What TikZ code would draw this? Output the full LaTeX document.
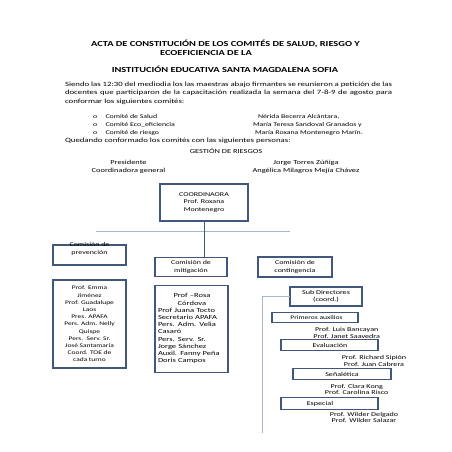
\documentclass[tikz,border=0pt]{standalone}
\usepackage{fontspec}
\setmainfont[FakeStretch=1.35]{Carlito}
\definecolor{boxc}{HTML}{42577C}
\definecolor{linec}{HTML}{A7B7C9}
\begin{document}
\begin{tikzpicture}[x=1pt,y=-1pt,
 every node/.style={inner sep=0pt, outer sep=0pt},
 ttl/.style={font=\bfseries\fontsize{7.7}{8}\selectfont, anchor=base},
 ptx/.style={font=\fontsize{6.5}{8}\selectfont, anchor=base west},
 blt/.style={font=\fontsize{5.8}{7}\selectfont, anchor=base west},
 hdr/.style={align=center, font=\fontsize{6.2}{7.6}\selectfont},
 bx/.style={draw=boxc, line width=1.2pt},
 btx/.style={align=center, font=\fontsize{5.9}{7.2}\selectfont},
 ltx/.style={align=center, font=\fontsize{5.5}{7.2}\selectfont},
 rtx/.style={align=center, font=\fontsize{6.0}{6.8}\selectfont},
 light/.style={draw=linec, line width=0.8pt}]
\useasboundingbox (0,0) rectangle (452,452);
\fill[white] (0,0) rectangle (452,452);

% titles
\node[ttl] (t1) at (225.5,46.5) {ACTA DE CONSTITUCIÓN DE LOS COMITÉS DE SALUD, RIESGO Y};
\node[ttl] (t2) at (206,55.5) {ECOEFICIENCIA DE LA};
\node[ttl] (t3) at (225,72) {INSTITUCIÓN EDUCATIVA SANTA MAGDALENA SOFIA};

% paragraph
\node[ptx] (p1) at (65,86.2) {\makebox[327pt][s]{Siendo las 12:30 del mediodia los las maestras abajo firmantes se reunieron a petición de las}};
\node[ptx] (p2) at (65,94.7) {\makebox[327pt][s]{docentes que participaron de la capacitación realizada la semana del 7-8-9 de agosto para}};
\node[ptx] (p3) at (65,103.2) {conformar los siguientes comités:};

\node[blt] (b1) at (93,118.5) {o};
\node[blt] (b2) at (93,126.5) {o};
\node[blt] (b3) at (93,134.5) {o};
\node[blt] (c1) at (105.5,118.5) {Comité de Salud};
\node[blt] (c2) at (105.5,126.5) {Comité Eco\_eficiencia};
\node[blt] (c3) at (105.5,134.5) {Comité de riesgo};
\node[blt] (n1) at (258,118.5) {Nérida Becerra Alcántara,};
\node[blt] (n2) at (253,126.5) {María Teresa Sandoval Granados y};
\node[blt] (n3) at (255,134.5) {María Roxana Montenegro Marín.};
\node[ptx] (q) at (65,142.7) {Quedando conformado los comités con las siguientes personas:};

\node[hdr, anchor=base] (g) at (226,153.6) {GESTIÓN DE RIESGOS};
\node[hdr] (pres) at (128.5,167) {Presidente\\Coordinadora general};
\node[hdr] (jorge) at (306,167) {Jorge Torres Zúñiga\\Angélica Milagros Mejía Chávez};

% boxes
\node[bx, btx, minimum width=88pt, minimum height=37pt] (coord) at (204,202.5) {COORDINAORA\\Prof. Roxana\\Montenegro};

\node[bx, minimum width=73pt, minimum height=20pt] (prev) at (89.5,255) {};
\node[btx, font=\fontsize{5.9}{8}\selectfont] (prevt) at (89.5,249) {Comisión de\\prevención};

\node[bx, ltx, minimum width=73pt, minimum height=88pt] (emma) at (89.5,324) {Prof. Emma\\Jiménez\\Prof. Guadalupe\\Laos\\Pres. APAFA\\Pers. Adm. Nelly\\Quispe\\Pers.\ \ Serv. Sr.\\José Santamaría\\Coord. TOE de\\cada turno};

\node[bx, btx, minimum width=72pt, minimum height=19pt] (mit) at (191,267) {Comisión de\\mitigación};

\node[bx, minimum width=73pt, minimum height=87pt] (rosa) at (191.5,329.3) {};
\node[align=left, text width=68pt, font=\fontsize{6.3}{7.2}\selectfont] (rosat) at (192,328.6) {\makebox[\linewidth]{Prof --Rosa}\\\makebox[\linewidth]{Córdova}\\Prof Juana Tocto\\Secretario APAFA\\Pers. Adm. Velia\\Casaró\\Pers. Serv. Sr.\\Jorge Sánchez\\Auxil. Fanny Peña\\Doris Campos};

\node[bx, btx, minimum width=74pt, minimum height=20pt] (cont) at (295,267) {Comisión de\\contingencia};

\node[bx, rtx, minimum width=72pt, minimum height=19pt] (sub) at (326,296.5) {Sub Directores\\(coord.)};
\node[bx, minimum width=86pt, minimum height=9.6pt] (prim) at (315,317.5) {};
\node[rtx, anchor=base, font=\fontsize{5.6}{6.8}\selectfont] (primt) at (316.5,319.4) {Primeros auxilios};
\node[rtx] (luis) at (346.7,333) {Prof. Luis Bancayan\\Prof. Janet Saavedra};
\node[bx, minimum width=97pt, minimum height=11.4pt] (eval) at (329.5,345) {};
\node[rtx, anchor=base] (evalt) at (330,347) {Evaluación};
\node[rtx] (rich) at (374,360.8) {Prof. Richard Sipión\\Prof. Juan Cabrera};
\node[bx, minimum width=98pt, minimum height=11.7pt] (senal) at (342,374) {};
\node[rtx, anchor=base] (senalt) at (342,376) {Señalética};
\node[rtx] (clara) at (356.7,389.4) {Prof. Clara Kong\\Prof. Carolina Risco};
\node[bx, minimum width=97pt, minimum height=11.6pt] (esp) at (329.5,403.5) {};
\node[rtx, anchor=base] (espt) at (320,405.5) {Especial};
\node[rtx] (wild) at (364,417.5) {Prof. Wilder Delgado\\Prof. Wilder Salazar};

% connectors
\coordinate (hl) at (96,231.5);
\coordinate (hr) at (290,231.5);
\draw[light] (hl) -- (hr);
\draw[draw=boxc, line width=0.8pt] (coord.south) -- (coord.south |- mit.north);
\coordinate (lb) at (262,433);
\draw[light] (sub.west) -| (lb);
\end{tikzpicture}
\end{document}
